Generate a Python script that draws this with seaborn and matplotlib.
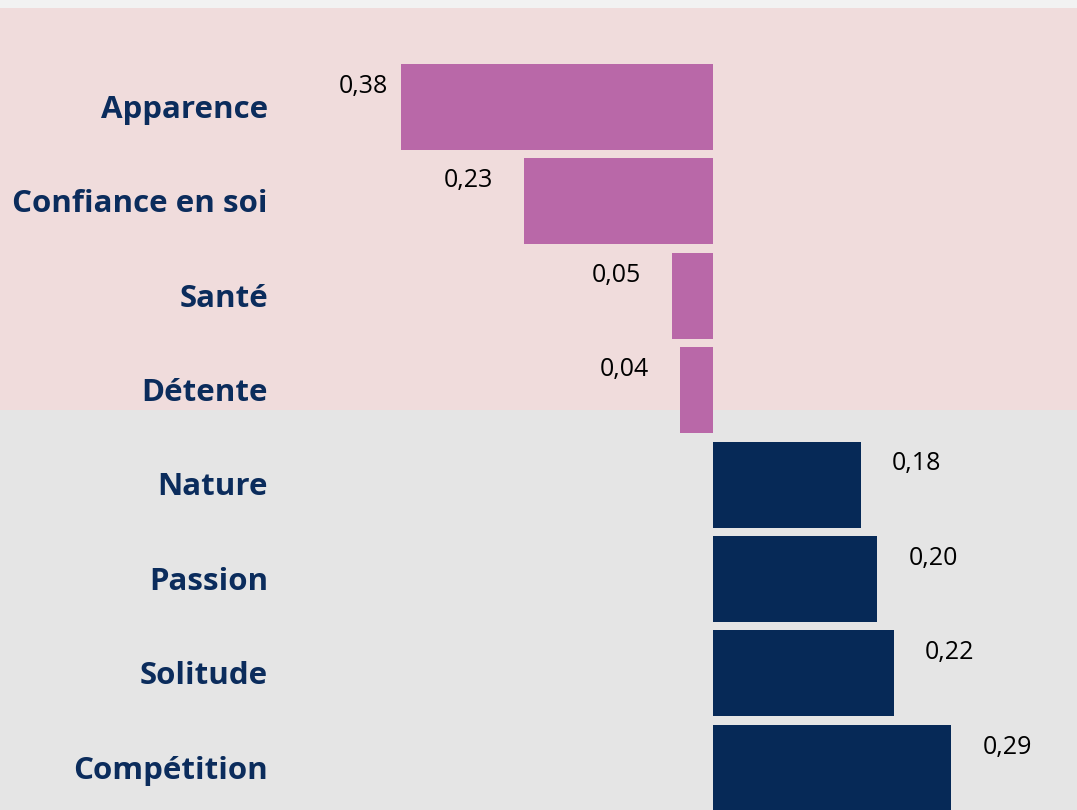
import matplotlib
matplotlib.use("Agg")
import matplotlib.pyplot as plt
import matplotlib.transforms as mtransforms
import seaborn as sns
import pandas as pd

# données
categories = ["Apparence", "Confiance en soi", "Santé", "Détente",
              "Nature", "Passion", "Solitude", "Compétition"]
valeurs = [-0.38, -0.23, -0.05, -0.04, 0.18, 0.20, 0.22, 0.29]
groupes = ["neg", "neg", "neg", "neg", "pos", "pos", "pos", "pos"]

couleurs = {"neg": "#B968A8", "pos": "#062957"}
bleu_texte = "#0B2C5C"

df = pd.DataFrame({"cat": categories, "val": valeurs, "grp": groupes})

sns.set_theme(style="white")
plt.rcParams["font.family"] = ["Open Sans", "DejaVu Sans"]

fig = plt.figure(figsize=(10.77, 8.10), dpi=100)
fig.patch.set_facecolor("#F2F2F2")
ax = fig.add_axes([0, 0, 1, 802 / 810])
ax.set_facecolor("#E5E5E5")

# fonds
ax.axhspan(-1.1, 3.21, color="#F0DCDC", zorder=0, lw=0)

sns.barplot(data=df, x="val", y="cat", hue="grp", palette=couleurs,
            dodge=False, width=0.91, legend=False, ax=ax, zorder=2,
            saturation=1, linewidth=0, edgecolor="none")

ax.set_xlim(-713 / 822, (1077 - 713) / 822)
ax.set_ylim(7.447, -1.0487)
ax.set_xticks([])
ax.set_yticks([])
ax.set_xlabel("")
ax.set_ylabel("")
for s in ax.spines.values():
    s.set_visible(False)

# étiquettes des catégories
trans = mtransforms.blended_transform_factory(ax.transAxes, ax.transData)
for i, c in enumerate(categories):
    ax.text(268 / 1077, i + 0.03, c, transform=trans, ha="right", va="center",
            fontsize=22.5, fontweight="bold", color=bleu_texte)

# valeurs
for i, v in enumerate(valeurs):
    txt = f"{abs(v):.2f}".replace(".", ",")
    gap = 13 if i == 0 else 31
    if v < 0:
        ax.annotate(txt, (v, i - 0.22), xytext=(-gap * 0.72, 0),
                    textcoords="offset points", ha="right", va="center",
                    fontsize=18, color="black")
    else:
        ax.annotate(txt, (v, i - 0.22), xytext=(gap * 0.72, 0),
                    textcoords="offset points", ha="left", va="center",
                    fontsize=18, color="black")

fig.savefig("out.png", dpi=100, facecolor=fig.get_facecolor())
